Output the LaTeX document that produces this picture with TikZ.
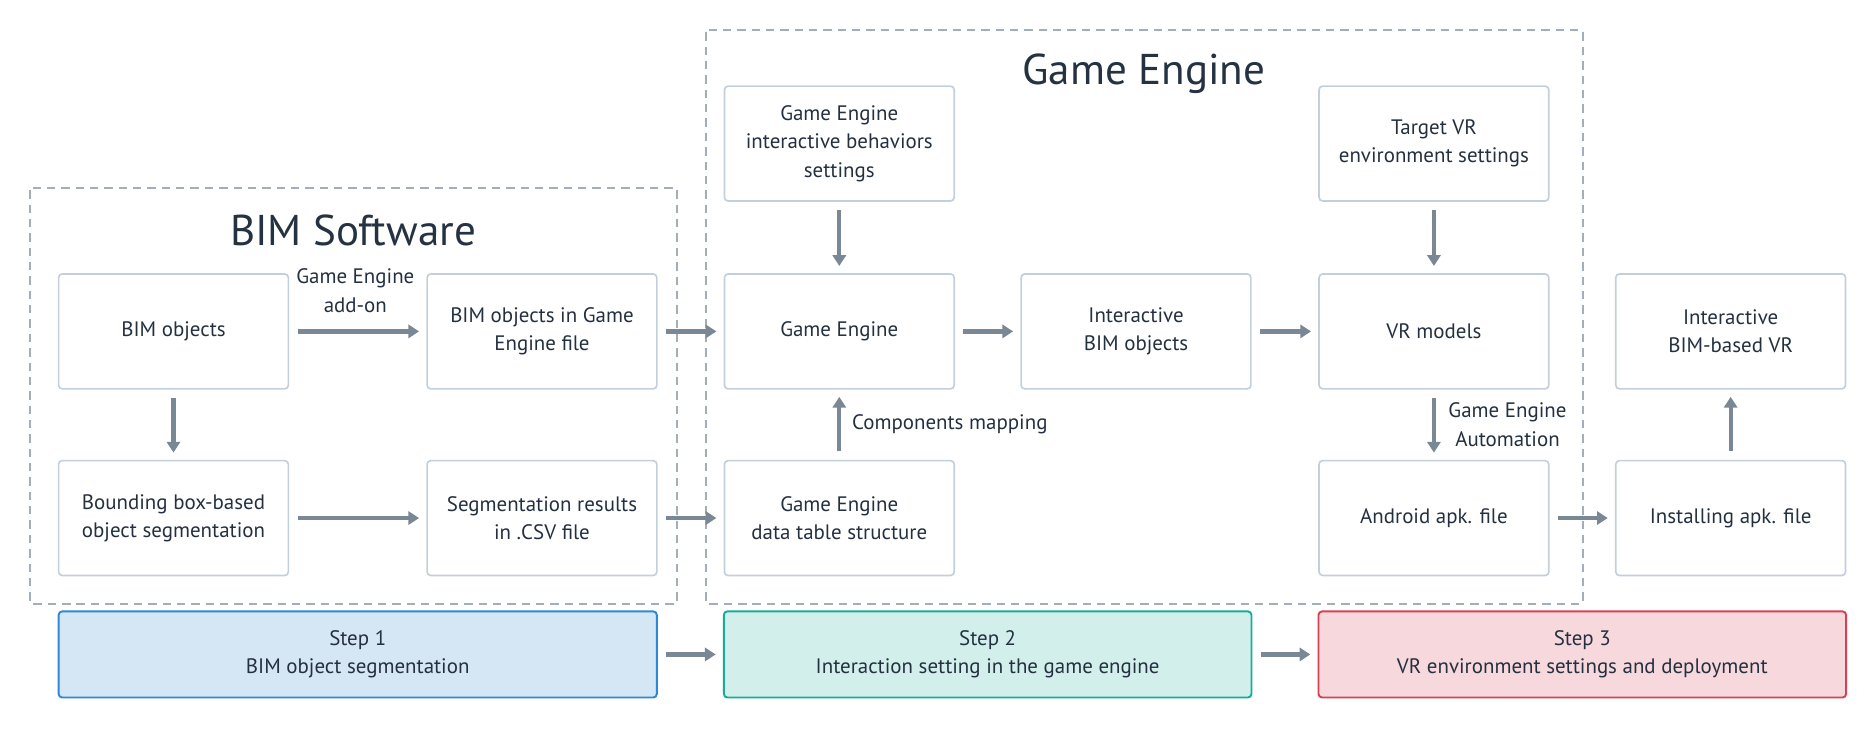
\documentclass[tikz,border=0pt]{standalone}
\usepackage{fontspec}
\setmainfont{PT Sans}
\usetikzlibrary{arrows.meta}
\definecolor{boxc}{HTML}{C3CFDC}
\definecolor{dashc}{HTML}{A3AEBA}
\definecolor{arrc}{HTML}{7A8794}
\definecolor{txt}{HTML}{243040}
\definecolor{ttl}{HTML}{243242}
\definecolor{sAfill}{HTML}{D5E6F5}
\definecolor{sAdraw}{HTML}{2D88D8}
\definecolor{sBfill}{HTML}{D2EFEC}
\definecolor{sBdraw}{HTML}{17AB98}
\definecolor{sCfill}{HTML}{F6D8DD}
\definecolor{sCdraw}{HTML}{D8414F}
\tikzset{
  bx/.style={draw=boxc, line width=1.4pt, rounded corners=3pt, minimum width=192pt, minimum height=96pt, align=center, text=txt, font=\fontsize{17.5}{23.6}\selectfont, inner sep=0pt},
  stepbox/.style={line width=1.6pt, rounded corners=3pt, minimum height=72pt, align=center, text=txt, font=\fontsize{17.5}{23.6}\selectfont, inner sep=0pt},
  lbl/.style={align=center, text=txt, font=\fontsize{17.5}{23.6}\selectfont, inner sep=0pt},
  ttlstyle/.style={text=ttl, font=\fontsize{36}{40}\selectfont, inner sep=0pt},
  grp/.style={draw=dashc, line width=1.5pt, dash pattern=on 7pt off 5pt, rounded corners=2pt},
  arr/.style={draw=arrc, line width=3.5pt, -{Triangle[width=11pt,length=9pt]}, shorten <=7pt, shorten >=6pt}
}
\begin{document}
\begin{tikzpicture}[x=1pt,y=-1pt]
\useasboundingbox (0,0) rectangle (1568,609);
% groups
\draw[grp] (25,157) rectangle (566,505);
\draw[grp] (590,25) rectangle (1323,505);
\node[ttlstyle] (t1) at (295,193) {BIM Software};
\node[ttlstyle] (t2) at (956,62) {Game Engine};
% boxes
\node[bx] (bim) at (145,277) {BIM objects};
\node[bx] (bimge) at (453,277) {BIM objects in Game\\Engine file};
\node[bx] (ge) at (701.5,277) {Game Engine};
\node[bx] (ibo) at (949.5,277) {Interactive\\BIM objects};
\node[bx] (vr) at (1198.5,277) {VR models};
\node[bx] (ibvr) at (1446.5,277) {Interactive\\BIM-based VR};
\node[bx] (geb) at (701.5,120) {Game Engine\\interactive behaviors\\settings};
\node[bx] (tvr) at (1198.5,120) {Target VR\\environment settings};
\node[bx] (bb) at (145,433) {Bounding box-based\\object segmentation};
\node[bx] (seg) at (453,433) {Segmentation results\\in .CSV file};
\node[bx] (gedt) at (701.5,433) {Game Engine\\data table structure};
\node[bx] (apk) at (1198.5,433) {Android apk. file};
\node[bx] (inst) at (1446.5,433) {Installing apk. file};
% steps
\node[stepbox, draw=sAdraw, fill=sAfill, minimum width=500pt] (s1) at (299,547) {Step 1\\BIM object segmentation};
\node[stepbox, draw=sBdraw, fill=sBfill, minimum width=441pt] (s2) at (825.5,547) {Step 2\\Interaction setting in the game engine};
\node[stepbox, draw=sCdraw, fill=sCfill, minimum width=441pt] (s3) at (1322.5,547) {Step 3\\VR environment settings and deployment};
% arrows
\draw[arr] (bim.east) -- (bimge.west);
\draw[arr] (bb.east) -- (seg.west);
\draw[arr] (bim.south) -- (bb.north);
\draw[arr] (bimge.east) -- (ge.west);
\draw[arr] (seg.east) -- (gedt.west);
\draw[arr] (geb.south) -- (ge.north);
\draw[arr] (gedt.north) -- (ge.south);
\draw[arr] (ge.east) -- (ibo.west);
\draw[arr] (ibo.east) -- (vr.west);
\draw[arr] (tvr.south) -- (vr.north);
\draw[arr] (vr.south) -- (apk.north);
\draw[arr] (apk.east) -- (inst.west);
\draw[arr] (inst.north) -- (ibvr.south);
\draw[arr] (s1.east) -- (s2.west);
\draw[arr] (s2.east) -- (s3.west);
% labels
\node[lbl] (l1) at (297,243) {Game Engine\\add-on};
\node[lbl, anchor=west] (l2) at (712,355) {Components mapping};
\node[lbl] (l3) at (1260,355) {Game Engine\\Automation};
\end{tikzpicture}
\end{document}
